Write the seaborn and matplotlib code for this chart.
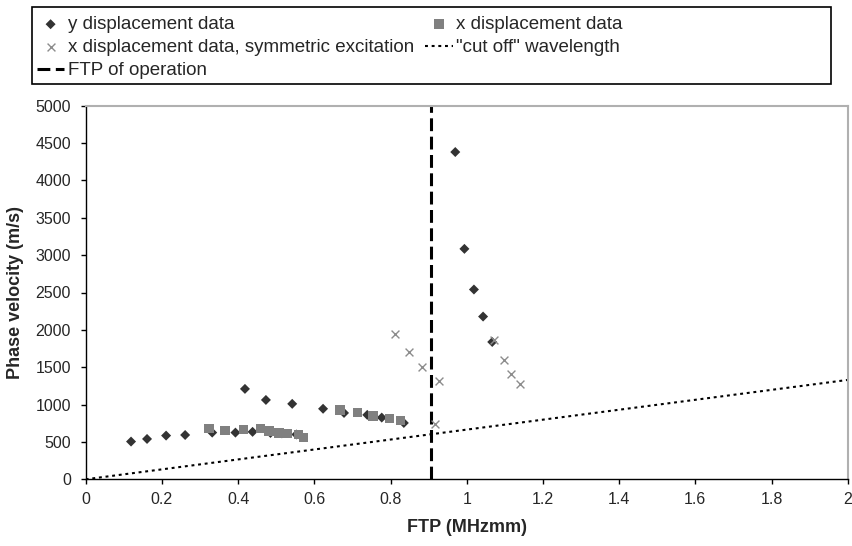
import numpy as np
import pandas as pd
import matplotlib
matplotlib.use('Agg')
import matplotlib.pyplot as plt
from matplotlib.patches import Rectangle
import seaborn as sns

# datos
y_ftp = [0.119, 0.161, 0.211, 0.261, 0.332, 0.393, 0.438, 0.418, 0.473, 0.542,
         0.623, 0.678, 0.739, 0.777, 0.835, 0.970, 0.994, 1.019, 1.043, 1.067,
         0.485, 0.515, 0.553]
y_vel = [505, 540, 585, 593, 625, 625, 635, 1210, 1062, 1010,
         944, 888, 862, 826, 754, 4380, 3084, 2540, 2178, 1838,
         620, 615, 600]

x_ftp = [0.324, 0.366, 0.414, 0.459, 0.481, 0.507, 0.528, 0.558, 0.571,
         0.667, 0.713, 0.754, 0.797, 0.827]
x_vel = [679, 656, 670, 679, 647, 620, 612, 603, 558,
         930, 897, 848, 817, 788]

sym_ftp = [0.813, 0.848, 0.883, 0.927, 0.918, 1.072, 1.097, 1.115, 1.140]
sym_vel = [1951, 1710, 1504, 1321, 746, 1870, 1603, 1415, 1281]

cutoff_ftp = [0.0, 2.0]
cutoff_vel = [0, 1330]

ftp_operacion = 0.905

sns.set_style('white')
plt.rcParams['font.family'] = ['Liberation Sans', 'DejaVu Sans']

fig = plt.figure(figsize=(8.53, 5.46), dpi=100)
ax = fig.add_axes([85.7/853, 1-479.3/546, 762/853, 373.6/546])

sns.lineplot(x=cutoff_ftp, y=cutoff_vel, ax=ax, color='black', lw=1.5,
             linestyle=(0, (1.4, 1.8)), label='"cut off" wavelength')
ax.axvline(ftp_operacion, color='black', lw=2.2, linestyle=(0, (4.2, 1.8)),
           label='FTP of operation')
sns.scatterplot(x=y_ftp, y=y_vel, ax=ax, marker='D', color='#333333', s=26,
                edgecolor='none', label='y displacement data', zorder=3)
sns.scatterplot(x=x_ftp, y=x_vel, ax=ax, marker='s', color='#808080', s=46,
                edgecolor='none', label='x displacement data', zorder=4)
sns.scatterplot(x=sym_ftp, y=sym_vel, ax=ax, marker='x', color='#8c8c8c', s=32,
                linewidth=1, label='x displacement data, symmetric excitation', zorder=5)

handles, labels = ax.get_legend_handles_labels()
ax.get_legend().remove()
h = dict(zip(labels, handles))
orden = ['y displacement data', 'x displacement data, symmetric excitation',
         'FTP of operation', 'x displacement data', '"cut off" wavelength']

ax.set_xlim(0, 2)
ax.set_ylim(0, 5000)
ax.set_xticks(np.arange(0, 2.01, 0.2))
ax.set_xticklabels(['0', '0.2', '0.4', '0.6', '0.8', '1', '1.2', '1.4', '1.6', '1.8', '2'])
ax.set_yticks(np.arange(0, 5001, 500))
ax.tick_params(axis='both', direction='out', length=3.5, width=1, color='black',
               labelsize=11.5, bottom=True, left=True)
ax.tick_params(axis='y', pad=7)
ax.tick_params(axis='x', pad=6)
ax.set_xlabel('FTP (MHzmm)', fontsize=13, fontweight='bold', labelpad=8)
ax.set_ylabel('Phase velocity (m/s)', fontsize=13, fontweight='bold', labelpad=8)

for s in ['left', 'bottom']:
    ax.spines[s].set_color('black')
    ax.spines[s].set_linewidth(1)
for s in ['top', 'right']:
    ax.spines[s].set_color('#b0b0b0')
    ax.spines[s].set_linewidth(1.5)

# caja de la leyenda
fig.add_artist(Rectangle((32/853, 1-84/546), (831-32)/853, (84-7)/546,
                         transform=fig.transFigure, fill=False,
                         edgecolor='black', lw=1.2))
fig.legend([h[k] for k in orden], orden, ncol=2, loc='upper left',
           bbox_to_anchor=(37/853, 1-16/546), frameon=False, fontsize=13.5,
           borderpad=0, borderaxespad=0, handlelength=1.45, handletextpad=0.2,
           columnspacing=0.6, labelspacing=0.32)

fig.savefig('out.png', dpi=100)
